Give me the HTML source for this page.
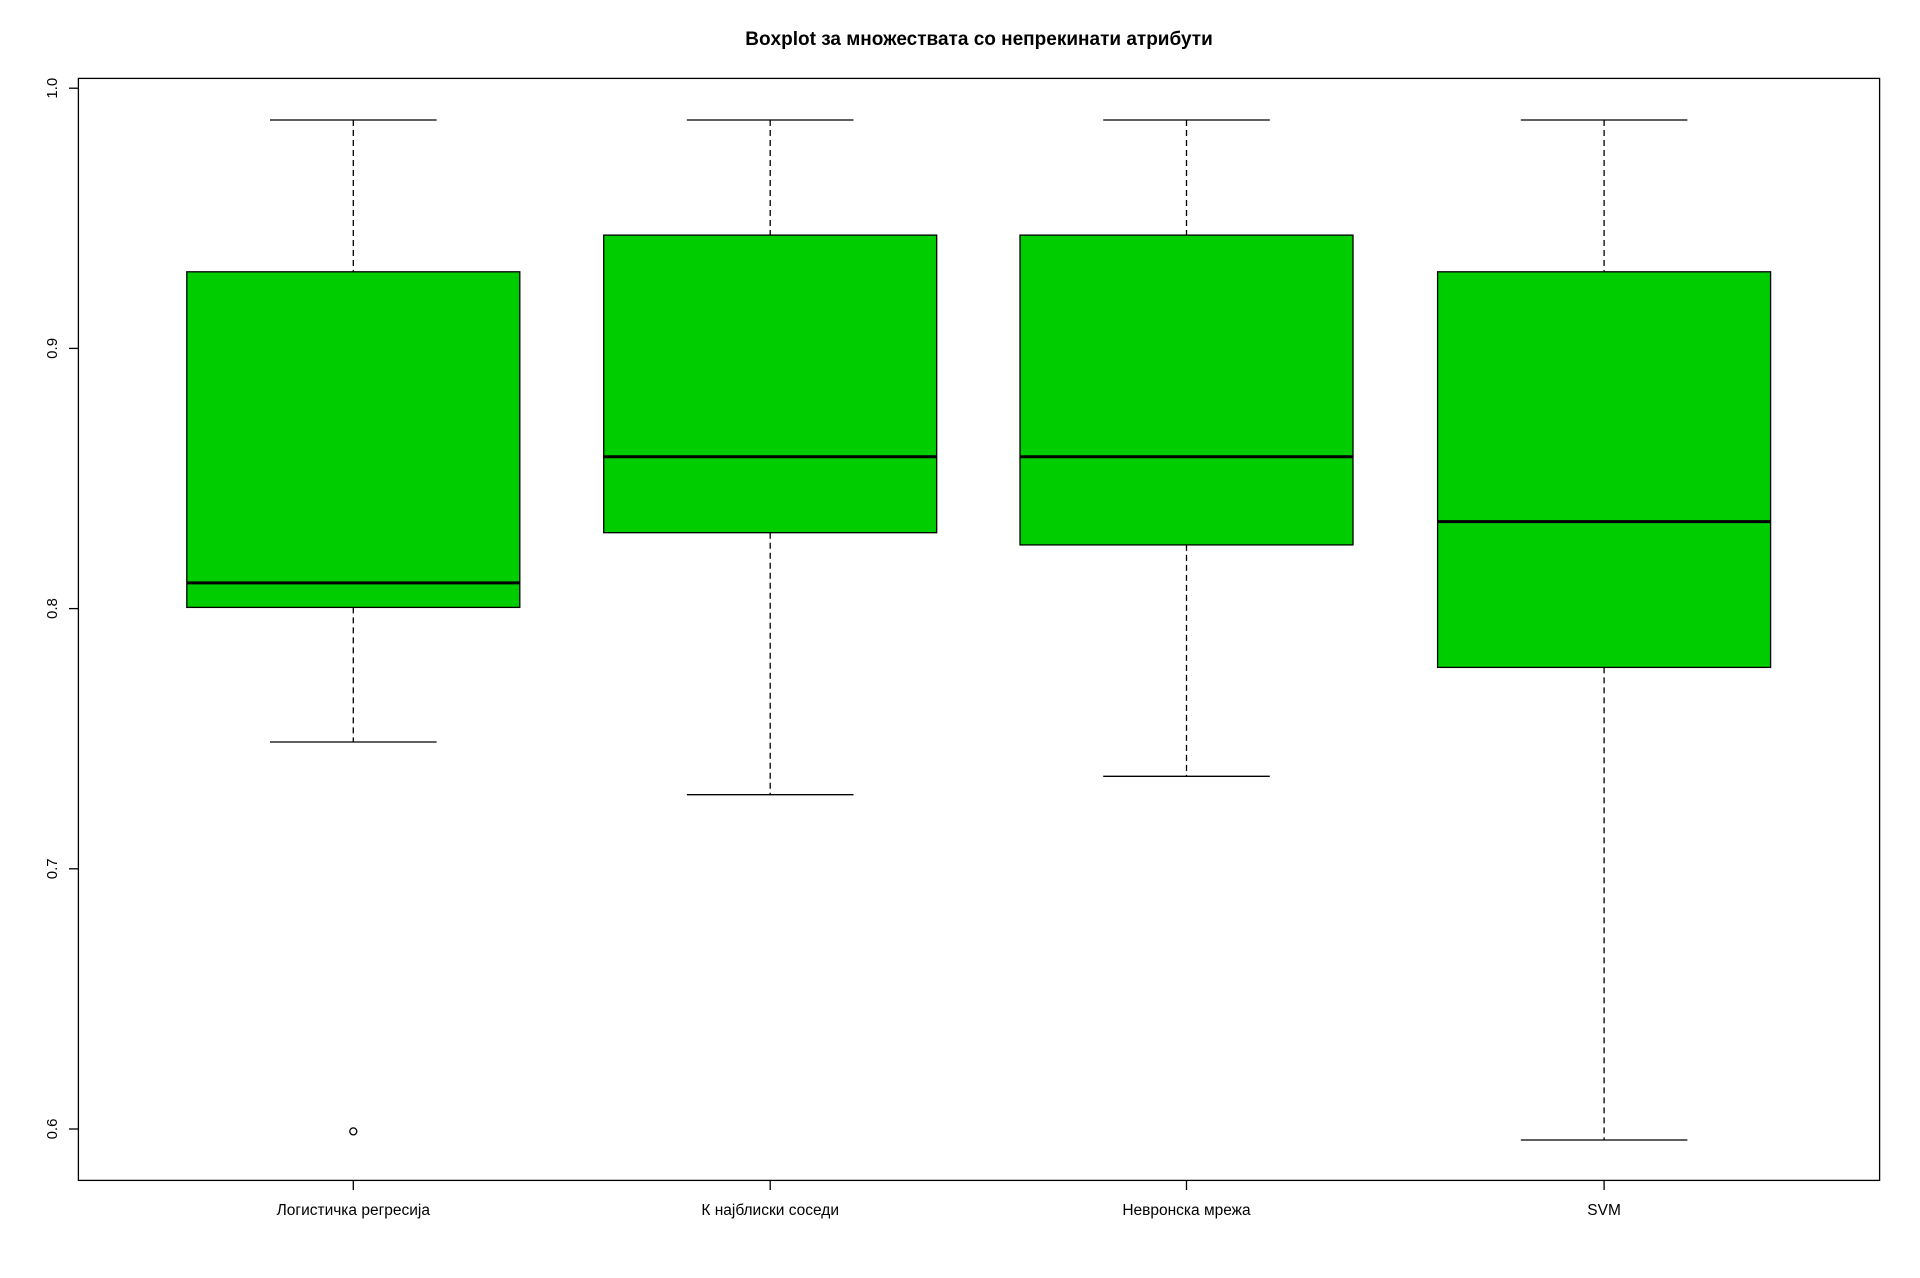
<!DOCTYPE html>
<html><head><meta charset="utf-8"><style>html,body{margin:0;padding:0;background:#fff}svg{display:block}</style></head>
<body>
<svg width="1920" height="1278" viewBox="0 0 1920 1278" xmlns="http://www.w3.org/2000/svg" font-family="Liberation Sans, Arial, sans-serif">
<rect width="1920" height="1278" fill="#fff"/>
<text x="979" y="45" font-size="19" font-weight="bold" text-anchor="middle">Boxplot за множествата со непрекинати атрибути</text>
<g stroke="#000" stroke-width="1.3" fill="none">
<rect x="78.4" y="78.4" width="1801.2" height="1102"/>
<line x1="78.4" y1="88.2" x2="69" y2="88.2"/>
<line x1="78.4" y1="348.4" x2="69" y2="348.4"/>
<line x1="78.4" y1="608.6" x2="69" y2="608.6"/>
<line x1="78.4" y1="868.8" x2="69" y2="868.8"/>
<line x1="78.4" y1="1129" x2="69" y2="1129"/>
<line x1="353.3" y1="1180.4" x2="353.3" y2="1190"/>
<line x1="770.2" y1="1180.4" x2="770.2" y2="1190"/>
<line x1="1186.5" y1="1180.4" x2="1186.5" y2="1190"/>
<line x1="1604.1" y1="1180.4" x2="1604.1" y2="1190"/>
</g>
<g font-size="15" fill="#000">
<text transform="translate(57,88.2) rotate(-90)" text-anchor="middle">1.0</text>
<text transform="translate(57,348.4) rotate(-90)" text-anchor="middle">0.9</text>
<text transform="translate(57,608.6) rotate(-90)" text-anchor="middle">0.8</text>
<text transform="translate(57,868.8) rotate(-90)" text-anchor="middle">0.7</text>
<text transform="translate(57,1129) rotate(-90)" text-anchor="middle">0.6</text>
</g>
<g font-size="15.5" fill="#000" text-anchor="middle">
<text x="353.3" y="1215">Логистичка регресија</text>
<text x="770.2" y="1215">К најблиски соседи</text>
<text x="1186.5" y="1215">Невронска мрежа</text>
<text x="1604.1" y="1215">SVM</text>
</g>
<g stroke="#000" stroke-width="1.3">
<line x1="353.3" y1="120" x2="353.3" y2="271.8" stroke-dasharray="6,4"/>
<line x1="353.3" y1="607.4" x2="353.3" y2="742" stroke-dasharray="6,4"/>
<line x1="270" y1="120" x2="436.6" y2="120"/>
<line x1="270" y1="742" x2="436.6" y2="742"/>
<rect x="186.8" y="271.8" width="333" height="335.6" fill="#00cd00"/>
<line x1="186.8" y1="582.9" x2="519.8" y2="582.9" stroke-width="3"/>
<circle cx="353.3" cy="1131.4" r="3.5" fill="none"/>

<line x1="770.2" y1="120" x2="770.2" y2="235.1" stroke-dasharray="6,4"/>
<line x1="770.2" y1="532.7" x2="770.2" y2="794.7" stroke-dasharray="6,4"/>
<line x1="686.9" y1="120" x2="853.5" y2="120"/>
<line x1="686.9" y1="794.7" x2="853.5" y2="794.7"/>
<rect x="603.7" y="235.1" width="333" height="297.6" fill="#00cd00"/>
<line x1="603.7" y1="456.7" x2="936.7" y2="456.7" stroke-width="3"/>

<line x1="1186.5" y1="120" x2="1186.5" y2="235.1" stroke-dasharray="6,4"/>
<line x1="1186.5" y1="544.9" x2="1186.5" y2="776.3" stroke-dasharray="6,4"/>
<line x1="1103.2" y1="120" x2="1269.8" y2="120"/>
<line x1="1103.2" y1="776.3" x2="1269.8" y2="776.3"/>
<rect x="1020" y="235.1" width="333" height="309.8" fill="#00cd00"/>
<line x1="1020" y1="456.7" x2="1353" y2="456.7" stroke-width="3"/>

<line x1="1604.1" y1="120" x2="1604.1" y2="271.8" stroke-dasharray="6,4"/>
<line x1="1604.1" y1="667.4" x2="1604.1" y2="1140" stroke-dasharray="6,4"/>
<line x1="1520.8" y1="120" x2="1687.4" y2="120"/>
<line x1="1520.8" y1="1140" x2="1687.4" y2="1140"/>
<rect x="1437.6" y="271.8" width="333" height="395.6" fill="#00cd00"/>
<line x1="1437.6" y1="521.6" x2="1770.6" y2="521.6" stroke-width="3"/>
</g>
</svg>
</body></html>
